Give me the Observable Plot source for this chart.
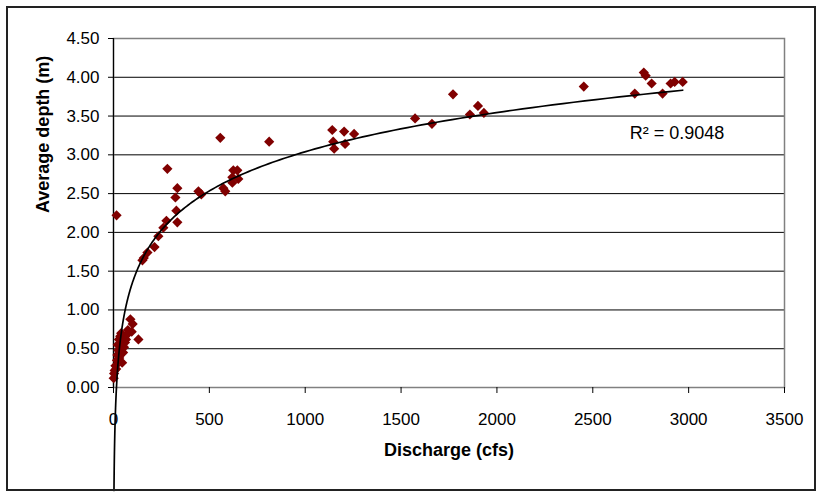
<!DOCTYPE html>
<html>
<head>
<meta charset="utf-8">
<script src="https://cdn.jsdelivr.net/npm/d3@7"></script>
<script src="https://cdn.jsdelivr.net/npm/@observablehq/plot@0.6"></script>
<style>
  html, body { margin: 0; padding: 0; background: #fff; }
  #wrap { position: relative; width: 822px; height: 493px; font-family: "Liberation Sans", Arial, sans-serif; }
  #border { position: absolute; left: 6px; top: 6px; width: 810px; height: 485px; box-sizing: border-box; border: 2px solid #222; pointer-events: none; }
</style>
</head>
<body>
<div id="wrap"><div id="border"></div></div>
<script>
// Discharge (cfs) and average depth (m)
const discharge = [1, 3, 6, 10, 14, 18, 20, 25, 22, 28, 35, 40, 30, 45, 50, 55, 60, 65, 70, 75, 88, 100, 95, 130, 40, 16,
  151, 158, 177, 214, 234, 260, 276, 281, 323, 328, 333, 333, 443, 458, 557, 573, 583, 620, 620, 625, 646, 651,
  812, 1141, 1146, 1151, 1203, 1208, 1255, 1573, 1661, 1771, 1859, 1901, 1932,
  2453, 2719, 2766, 2776, 2807, 2864, 2906, 2927, 2969];
const depth = [0.12, 0.18, 0.22, 0.28, 0.24, 0.35, 0.42, 0.48, 0.55, 0.62, 0.66, 0.70, 0.38, 0.32, 0.45, 0.52, 0.58, 0.62, 0.68, 0.74, 0.88, 0.82, 0.72, 0.62, 0.55, 2.22,
  1.64, 1.67, 1.74, 1.81, 1.95, 2.06, 2.15, 2.82, 2.45, 2.28, 2.57, 2.13, 2.53, 2.49, 3.22, 2.57, 2.53, 2.64, 2.71, 2.80, 2.80, 2.69,
  3.17, 3.32, 3.17, 3.08, 3.30, 3.14, 3.27, 3.47, 3.40, 3.78, 3.52, 3.63, 3.54,
  3.88, 3.79, 4.06, 4.02, 3.92, 3.79, 3.92, 3.94, 3.94];

// Logarithmic trendline y = a ln(x) + b, as drawn in the reference
const trendA = 0.729;
const trendB = -1.996;
const trendXMin = 2.5;
const trendXMax = 2969;
const r2Label = "R² = 0.9048";
const r2Pos = [2693, 3.21];

const xTicks = [0, 500, 1000, 1500, 2000, 2500, 3000, 3500];
const yTicks = [0, 0.5, 1, 1.5, 2, 2.5, 3, 3.5, 4, 4.5];
const xTitle = "Discharge (cfs)";
const yTitle = "Average depth (m)";

const points = discharge.map((d, i) => ({x: d, y: depth[i]}));
const trendXs = d3.range(0, 301).map(i => trendXMin * Math.pow(trendXMax / trendXMin, i / 300));
const trend = trendXs.map(x => ({x, y: trendA * Math.log(x) + trendB}));

const chart = Plot.plot({
  width: 822,
  height: 493,
  marginLeft: 113,
  marginRight: 38,
  marginTop: 38,
  marginBottom: 106,
  style: {fontFamily: "Liberation Sans, Arial, sans-serif", fontSize: "17px", color: "#000", background: "transparent"},
  x: {domain: [0, 3500]},
  y: {domain: [0, 4.5]},
  marks: [
    Plot.ruleY(yTicks.filter(v => v > 0 && v < 4.5), {stroke: "#000", strokeWidth: 1}),
    Plot.frame({stroke: "#808080", strokeWidth: 1.5}),
    Plot.ruleX([0], {stroke: "#000", strokeWidth: 1.2}),
    Plot.axisX(xTicks, {tickSize: 6, tickPadding: 19, label: null, tickFormat: d3.format("d"), fontSize: 17}),
    Plot.axisY(yTicks, {tickSize: 5, tickPadding: 9, label: null, tickFormat: d3.format(".2f"), fontSize: 17}),
    Plot.dot(points, {x: "x", y: "y", symbol: "diamond2", r: 4.6, fill: "#800000", stroke: "none"}),
    Plot.line(trend, {x: "x", y: "y", stroke: "#000", strokeWidth: 1.7, curve: "linear"}),
    Plot.text([r2Label], {x: () => r2Pos[0], y: () => r2Pos[1], textAnchor: "start", lineAnchor: "bottom", fontSize: 18}),
    Plot.text([xTitle], {frameAnchor: "bottom", dy: 68, fontWeight: "bold", fontSize: 18}),
    Plot.text([yTitle], {frameAnchor: "left", dx: -70, rotate: -90, fontWeight: "bold", fontSize: 18})
  ]
});
document.getElementById("wrap").prepend(chart);
</script>
</body>
</html>
